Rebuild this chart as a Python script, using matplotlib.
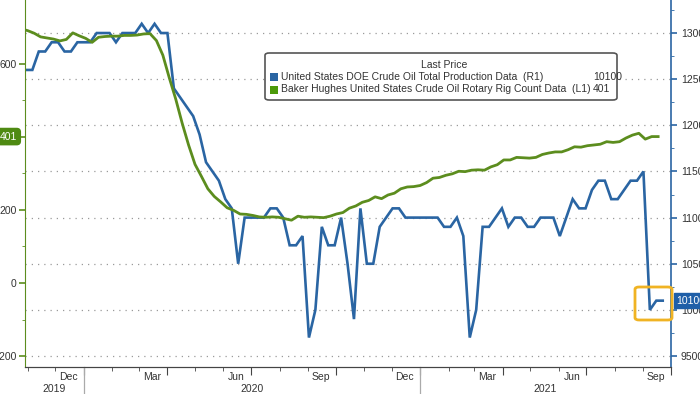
import matplotlib
matplotlib.use("Agg")
import matplotlib.pyplot as plt
import matplotlib.dates as mdates
import pandas as pd
from matplotlib.patches import FancyBboxPatch, Rectangle
from matplotlib.transforms import blended_transform_factory

plt.rcParams["font.family"] = ["Liberation Sans", "DejaVu Sans"]

# weekly DOE production (R1), thousand b/d, release dates from 2019-10-30
production = [
    12600, 12600, 12800, 12800, 12900, 12900, 12800, 12800, 12900, 12900,
    12900, 13000, 13000, 13000, 12900, 13000, 13000, 13000, 13100, 13000,
    13100, 13000, 13000, 12400, 12300, 12200, 12100, 11900, 11600, 11500,
    11400, 11200, 11100, 10500, 11000, 11000, 11000, 11000, 11100, 11100,
    11000, 10700, 10700, 10800, 9700, 10000, 10900, 10700, 10700, 11000,
    10500, 9900, 11100, 10500, 10500, 10900, 11000, 11100, 11100, 11000,
    11000, 11000, 11000, 11000, 11000, 10900, 10900, 11000, 10800, 9700,
    10000, 10900, 10900, 11000, 11100, 10900, 11000, 11000, 10900, 10900,
    11000, 11000, 11000, 10800, 11000, 11200, 11100, 11100, 11300, 11400,
    11400, 11200, 11200, 11300, 11400, 11400, 11500, 10000, 10100, 10100,
]
prod_start = "2019-10-30"

# weekly Baker Hughes oil rig count (L1), from 2019-10-25
rigs = [
    696, 691, 684, 674, 671, 668, 663, 667, 685, 677,
    670, 659, 673, 675, 676, 676, 678, 678, 679, 682,
    683, 664, 624, 562, 504, 438, 378, 325, 292, 258,
    237, 222, 206, 199, 189, 188, 185, 181, 180, 181,
    180, 176, 172, 183, 180, 181, 180, 179, 183, 189,
    193, 205, 211, 221, 226, 236, 231, 241, 246, 258,
    263, 264, 267, 275, 287, 289, 295, 299, 306, 305,
    309, 310, 309, 318, 324, 337, 337, 344, 343, 342,
    344, 352, 356, 359, 359, 365, 373, 372, 376, 378,
    380, 387, 385, 387, 397, 405, 410, 394, 401, 401,
]
rigs_start = "2019-10-25"

legend_names = [
    "United States DOE Crude Oil Total Production Data  (R1)",
    "Baker Hughes United States Crude Oil Rotary Rig Count Data  (L1)",
]
last_values = ["10100", "401"]
month_labels = ["Dec", "Mar", "Jun", "Sep", "Dec", "Mar", "Jun", "Sep"]
month_label_dates = ["2019-12-15", "2020-03-15", "2020-06-15", "2020-09-15",
                     "2020-12-15", "2021-03-15", "2021-06-15", "2021-09-15"]
years = ["2019", "2020", "2021"]
year_starts = ["2019-10-29", "2020-01-01", "2021-01-01", "2021-10-01"]

BLUE = "#2a65a3"
GREEN = "#5c8d1e"
GRID = "#9a9a9a"
TXT = "#333333"

prod_dates = pd.date_range(prod_start, periods=len(production), freq="7D")
rig_dates = pd.date_range(rigs_start, periods=len(rigs), freq="7D")
x0, x1 = pd.Timestamp(year_starts[0]), pd.Timestamp(year_starts[-1])

W, H = 700, 394
fig = plt.figure(figsize=(W / 100, H / 100), dpi=100)
ax = fig.add_axes([25 / W, 1 - 367 / H, (671 - 25) / W, 367 / H])
ax2 = ax.twinx()
ax.set_zorder(ax2.get_zorder() + 1)
ax.patch.set_visible(False)

ax2.plot(prod_dates, production, color=BLUE, lw=1.9, solid_joinstyle="miter")
ax.plot(rig_dates, rigs, color=GREEN, lw=2.0)

ax.set_xlim(x0, x1)
ax.set_ylim(-230, 775)
ax2.set_ylim(9381, 13358)

# x axis
ax.xaxis.set_major_locator(mdates.MonthLocator(bymonth=[1, 4, 7, 10]))
ax.xaxis.set_minor_locator(mdates.MonthLocator())
ax.xaxis.set_major_formatter(plt.NullFormatter())
ax.tick_params(axis="x", which="major", length=6, color="#444444", direction="out")
ax.tick_params(axis="x", which="minor", length=3, color="#444444", direction="out")
ax2.xaxis.set_major_locator(mdates.MonthLocator(bymonth=[1, 4, 7, 10]))
ax2.grid(axis="x", color=GRID, ls=(0, (1, 4)), lw=0.9)
ax2.grid(axis="y", color=GRID, ls=(0, (1, 4)), lw=0.9)

# left axis (rigs)
ax.set_yticks([-200, 0, 200, 400, 600])
ax.set_yticklabels(["\u2212200", "0", "200", "", "600"])
ax.set_yticks([-100, 100, 300, 500], minor=True)
ax.tick_params(axis="y", which="major", length=4, width=1.2, color=GREEN,
               labelsize=7.5, labelcolor=TXT, pad=2)
ax.tick_params(axis="y", which="minor", length=2, color=GREEN)

# right axis (production)
ax2.set_yticks(range(9500, 13001, 500))
ax2.set_yticks(range(9750, 13300, 500), minor=True)
ax2.tick_params(axis="y", which="major", length=4, width=1.2, color=BLUE,
                labelsize=7.5, labelcolor=TXT, pad=3)
ax2.tick_params(axis="y", which="minor", length=2, color=BLUE)

for a in (ax, ax2):
    a.spines["top"].set_visible(False)
    a.spines["bottom"].set_color("#444444")
ax.spines["left"].set_color(GREEN)
ax.spines["right"].set_visible(False)
ax2.spines["left"].set_visible(False)
ax2.spines["right"].set_color(BLUE)
ax2.spines["right"].set_linewidth(1.2)

# month and year labels
tx = blended_transform_factory(ax.transData, ax.transAxes)
for lab, d in zip(month_labels, month_label_dates):
    ax.text(pd.Timestamp(d), -0.028, lab, transform=tx, ha="center", va="center",
            fontsize=7.5, color=TXT, clip_on=False)
for i, lab in enumerate(years):
    a, b = pd.Timestamp(year_starts[i]), pd.Timestamp(year_starts[i + 1])
    ax.text(a + (b - a) / 2, -0.06, lab, transform=tx, ha="center", va="center",
            fontsize=7.5, color=TXT, clip_on=False)
for d in year_starts[1:-1]:
    ax.plot([pd.Timestamp(d)] * 2, [0, -0.08], transform=tx, color="#aaaaaa",
            lw=0.9, clip_on=False)

# last value tags
ty = blended_transform_factory(ax.transAxes, ax.transData)
ax.text(-0.012, rigs[-1], last_values[1], transform=ty, ha="right", va="center",
        fontsize=7.5, color="white", clip_on=False, zorder=5,
        bbox=dict(boxstyle="round,pad=0.3,rounding_size=0.35", fc="#4e8a12", ec="#4e8a12"))
ty2 = blended_transform_factory(ax2.transAxes, ax2.transData)
ax2.text(1.008, production[-1], last_values[0], transform=ty2, ha="left", va="center",
         fontsize=7.5, color="white", clip_on=False, zorder=5,
         bbox=dict(boxstyle="square,pad=0.25", fc="#1f5fa8", ec="#1f5fa8"))

# highlight box around the latest readings
fig.patches.append(FancyBboxPatch((635 / W, 1 - 320 / H), 37 / W, 33 / H,
                                  boxstyle="round,pad=0,rounding_size=0.006",
                                  transform=fig.transFigure, fc="none",
                                  ec="#f0b323", lw=2.0, zorder=10))

# legend
fig.patches.append(FancyBboxPatch((265 / W, 1 - 100 / H), 352 / W, 47 / H,
                                  boxstyle="round,pad=0,rounding_size=0.006",
                                  transform=fig.transFigure, fc="white",
                                  ec="#555555", lw=1.2, zorder=10))
fig.text(444 / W, 1 - 65 / H, "Last Price", ha="center", va="center",
         fontsize=7.5, color=TXT, zorder=11)
for i, (name, val, col) in enumerate(zip(legend_names, last_values, [BLUE, "#4c9a0a"])):
    yy = 77 + 12.5 * i
    fig.patches.append(Rectangle((270 / W, 1 - (yy + 4) / H), 8 / W, 8 / H,
                                 transform=fig.transFigure, fc=col, ec="none", zorder=11))
    fig.text(281 / W, 1 - yy / H, name, ha="left", va="center",
             fontsize=7.5, color=TXT, zorder=11)
    fig.text(593 / W, 1 - yy / H, val, ha="left", va="center",
             fontsize=7.5, color=TXT, zorder=11)

fig.savefig("out.png", dpi=100)
